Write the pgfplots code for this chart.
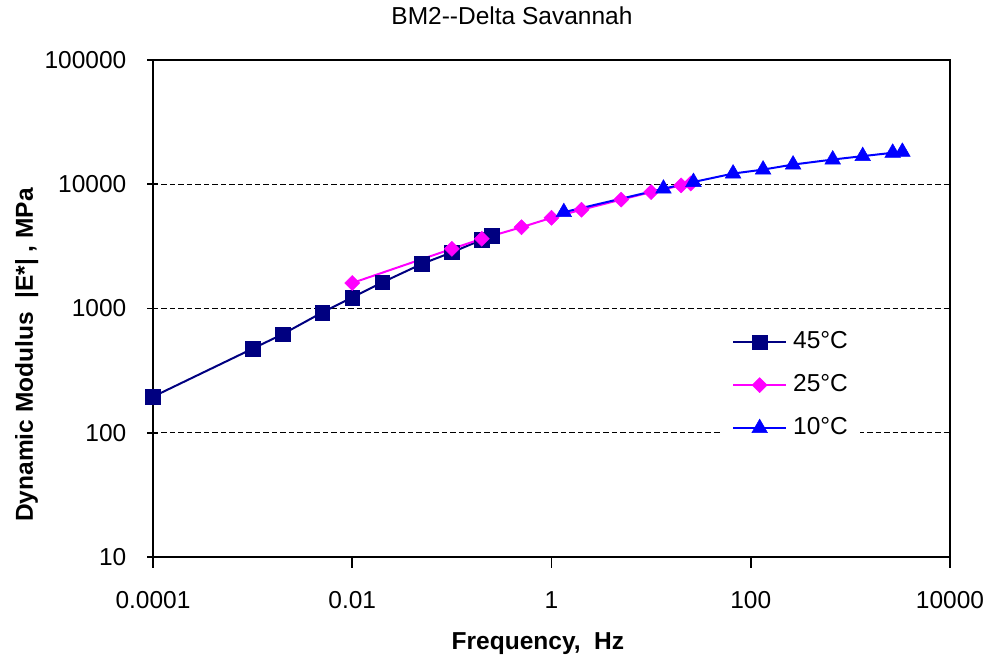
\documentclass[border=0pt]{standalone}
\usepackage{fontspec}
\setmainfont{Liberation Sans}
\usepackage{pgfplots}
\pgfplotsset{compat=1.18}
\newcommand\f{\fontsize{24.5pt}{29pt}\selectfont}
\definecolor{cA}{RGB}{0,0,128}
\definecolor{cB}{RGB}{255,0,255}
\definecolor{cC}{RGB}{0,0,255}
\begin{document}
\begin{tikzpicture}
\path[use as bounding box] (-153pt,-105pt) rectangle (843pt,557pt);
\begin{axis}[
  at={(0pt,0pt)}, anchor=south west,
  scale only axis, width=797pt, height=497pt,
  xmode=log, ymode=log,
  xmin=1e-4, xmax=1e4, ymin=10, ymax=1e5,
  xtick={1e-4,1e-2,1,1e2,1e4},
  xticklabels={\textrm{0.0001},\textrm{0.01},\textrm{1},\textrm{100},\textrm{10000}},
  ytick={10,100,1000,10000,100000},
  yticklabels={\textrm{10},\textrm{100},\textrm{1000},\textrm{10000},\textrm{100000}},
  xminorticks=false, yminorticks=false,
  xtick pos=bottom, ytick pos=left,
  xtick align=outside, ytick align=center,
  major tick length=11pt,
  tick style={black, line width=1.8pt},
  axis line style={black, line width=2pt},
  ymajorgrids,
  major grid style={black, line width=1.4pt, dash pattern=on 5.5pt off 3pt},
  tick label style={font=\f},
  xticklabel style={anchor=base, inner sep=0pt, yshift=-41pt},
  yticklabel style={anchor=east, inner sep=0pt, xshift=-21pt},
  title={BM2-{}-Delta Savannah},
  title style={at={(axis description cs:0.4504,1.0584)}, anchor=base, inner sep=0pt, font=\f},
  xlabel={Frequency,\ \ Hz},
  xlabel style={at={(axis description cs:0.483,-0.1871)}, anchor=base, inner sep=0pt, font=\f\bfseries},
  ylabel={Dynamic Modulus\ \ |E*| , MPa},
  ylabel style={at={(axis description cs:-0.1506,0.4064)}, anchor=base, inner sep=0pt, font=\f\bfseries},
  legend image code/.code={\draw[mark repeat=2,mark phase=2,#1] plot coordinates {(0pt,0pt)(26.5pt,0pt)(53pt,0pt)};},
  legend style={at={(axis description cs:0.7139,0.48)}, anchor=north west, draw=none, fill=white,
    inner sep=10pt, row sep=16pt, column sep=4pt, font=\f,
    nodes={inner sep=2pt, text height=18pt, text depth=5pt}},
  legend cell align=left,
]
\addplot[cA, line width=2pt, mark=square*, mark size=7.3pt, mark options={solid, fill=cA, line width=0.5pt}] coordinates {
(0.0001,195) (0.001,475) (0.002,621) (0.005,929) (0.01,1227) (0.02,1622) (0.05,2286) (0.1,2831) (0.2,3574) (0.25,3864)};
\addlegendentry{45°C}
\addplot[cB, line width=2pt, mark=square*, mark size=5.3pt, mark options={solid, fill=cB, line width=0.5pt, rotate=45}] coordinates {
(0.01,1604) (0.1,3020) (0.2,3640) (0.5,4510) (1,5370) (2,6240) (5,7520) (10,8650) (20,9790) (25,10150)};
\addlegendentry{25°C}
\addplot[cC, line width=2pt, mark=triangle*, mark size=9pt, mark options={solid, fill=cC, line width=0.5pt}] coordinates {
(1.33,5960) (13.3,9210) (26.6,10420) (66.5,12190) (133,13120) (266,14400) (665,15810) (1330,16840) (2660,17920) (3325,18240)};
\addlegendentry{10°C}
\end{axis}
\end{tikzpicture}
\end{document}
